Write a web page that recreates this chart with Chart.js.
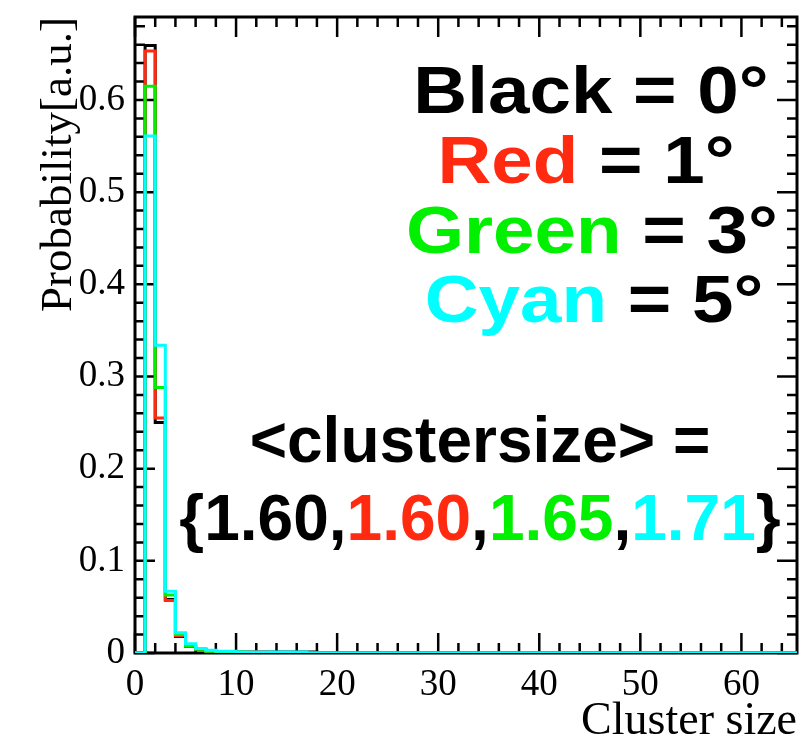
<!DOCTYPE html>
<html lang="en">
<head>
    <meta charset="UTF-8">
    <title>Cluster size</title>
    <script src="https://cdn.jsdelivr.net/npm/chart.js"></script>
    <style>
        html, body { margin: 0; padding: 0; background: #fff; }
        #wrap { width: 802px; height: 750px; }
    </style>
</head>
<body>
<div id="wrap"><canvas id="clusterChart" width="802" height="750"></canvas></div>

<script>
    // bin low edges (cluster size), bins are 1 wide
    const binEdges = [0, 1, 2, 3, 4, 5, 6, 7, 8, 9, 10, 11, 12, 13, 14, 15, 16, 17, 18];
    const black0 = [0, 0.659, 0.250, 0.058, 0.018, 0.007, 0.004, 0.002, 0.0015, 0.001, 0.001, 0.001, 0.001, 0.001, 0.001, 0.001, 0.001, 0.001, 0];
    const red1   = [0, 0.653, 0.255, 0.057, 0.019, 0.007, 0.004, 0.002, 0.0015, 0.001, 0.001, 0.001, 0.001, 0.0005, 0.0005, 0.0005, 0.0005, 0, 0];
    const green3 = [0, 0.615, 0.288, 0.063, 0.020, 0.008, 0.004, 0.002, 0.0015, 0.001, 0.001, 0.0005, 0.0005, 0.0005, 0.0005, 0, 0, 0, 0];
    const cyan5  = [0, 0.561, 0.334, 0.067, 0.022, 0.010, 0.005, 0.003, 0.002, 0.002, 0.001, 0.001, 0.001, 0.001, 0.001, 0.001, 0.001, 0, 0];
    const xMax = 65.5;
    const yMax = 0.69;
    const xTicks = [0, 10, 20, 30, 40, 50, 60];
    const yTicks = [0, 0.1, 0.2, 0.3, 0.4, 0.5, 0.6];
    const meanSizes = ['1.60', '1.60', '1.65', '1.71'];

    const colors = { black: '#000000', red: '#ff2a10', green: '#00f000', cyan: '#00ffff' };

    function histPoints(vals) {
        const pts = binEdges.map((e, i) => ({ x: e, y: vals[i] }));
        pts.push({ x: xMax, y: 0 });
        return pts;
    }

    function histSet(label, vals, color, order) {
        return {
            label, data: histPoints(vals), borderColor: color, borderWidth: 3,
            showLine: true, stepped: 'before', pointRadius: 0, fill: false, order
        };
    }

    // ROOT-like frame with inward ticks on all four sides
    const framePlugin = {
        id: 'frame',
        beforeDatasetsDraw(chart) {
            const { ctx, chartArea: a, scales: { x, y } } = chart;
            ctx.save();
            ctx.strokeStyle = '#000';
            ctx.lineWidth = 3;
            ctx.strokeRect(a.left, a.top, a.right - a.left, a.bottom - a.top);
            ctx.lineWidth = 2.5;
            ctx.beginPath();
            for (let v = 0; v <= xMax; v += 2) {
                const px = x.getPixelForValue(v);
                const len = v % 10 === 0 ? 20 : 10;
                ctx.moveTo(px, a.bottom); ctx.lineTo(px, a.bottom - len);
                ctx.moveTo(px, a.top); ctx.lineTo(px, a.top + len);
            }
            for (let k = 0; k * 0.02 <= yMax; k++) {
                const py = y.getPixelForValue(k * 0.02);
                const len = k % 5 === 0 ? 20 : 10;
                ctx.moveTo(a.left, py); ctx.lineTo(a.left + len, py);
                ctx.moveTo(a.right, py); ctx.lineTo(a.right - len, py);
            }
            ctx.stroke();
            ctx.restore();
        }
    };

    // draws coloured pieces of one line centred on cx, optionally stretched in x
    function drawParts(ctx, parts, cx, baseY, sx) {
        let w = 0;
        parts.forEach(p => { w += ctx.measureText(p[0]).width; });
        ctx.save();
        ctx.translate(cx, baseY);
        ctx.scale(sx || 1, 1);
        let xx = -w / 2;
        parts.forEach(p => {
            ctx.fillStyle = p[1];
            ctx.fillText(p[0], xx, 0);
            xx += ctx.measureText(p[0]).width;
        });
        ctx.restore();
    }

    const legendTextPlugin = {
        id: 'legendText',
        afterDraw(chart) {
            const ctx = chart.ctx;
            ctx.save();
            ctx.textBaseline = 'alphabetic';
            ctx.textAlign = 'left';
            ctx.font = 'bold 66px "Liberation Sans", Arial, sans-serif';
            drawParts(ctx, [['Black', colors.black], [' = 0°', '#000']], 591, 113, 1.13);
            drawParts(ctx, [['Red', colors.red], [' = 1°', '#000']], 586, 183, 1.13);
            drawParts(ctx, [['Green', colors.green], [' = 3°', '#000']], 592, 253, 1.13);
            drawParts(ctx, [['Cyan', colors.cyan], [' = 5°', '#000']], 594, 322, 1.13);
            ctx.font = 'bold 64px "Liberation Sans", Arial, sans-serif';
            drawParts(ctx, [['<clustersize> =', '#000']], 480, 462);
            const c = [colors.black, colors.red, colors.green, colors.cyan];
            const parts = [['{', '#000']];
            meanSizes.forEach((m, i) => {
                parts.push([m, c[i]]);
                parts.push([i < meanSizes.length - 1 ? ',' : '}', '#000']);
            });
            drawParts(ctx, parts, 480, 540);
            ctx.restore();
        }
    };

    const serif = '"Liberation Serif", "Times New Roman", serif';

    new Chart(document.getElementById('clusterChart'), {
        type: 'scatter',
        data: {
            datasets: [
                histSet('0°', black0, colors.black, 4),
                histSet('1°', red1, colors.red, 3),
                histSet('3°', green3, colors.green, 2),
                histSet('5°', cyan5, colors.cyan, 1)
            ]
        },
        options: {
            responsive: false,
            animation: false,
            layout: { padding: { top: 17, right: 5, left: 0, bottom: 0 } },
            plugins: { legend: { display: false }, tooltip: { enabled: false } },
            scales: {
                x: {
                    type: 'linear', min: 0, max: xMax,
                    afterFit(s) { s.height = 97; s.paddingLeft = 0; s.paddingRight = 0; },
                    afterBuildTicks(s) { s.ticks = xTicks.map(v => ({ value: v })); },
                    grid: { display: false, drawTicks: false },
                    border: { display: false },
                    ticks: { color: '#000', font: { family: serif, size: 37 }, padding: 10, maxRotation: 0 },
                    title: { display: true, text: 'Cluster size', align: 'end', color: '#000',
                             font: { family: serif, size: 46 }, padding: { top: 0, bottom: 0 } }
                },
                y: {
                    type: 'linear', min: 0, max: yMax,
                    afterFit(s) { s.width = 135; s.paddingTop = 0; s.paddingBottom = 0; },
                    afterBuildTicks(s) { s.ticks = yTicks.map(v => ({ value: v })); },
                    grid: { display: false, drawTicks: false },
                    border: { display: false },
                    ticks: { color: '#000', font: { family: serif, size: 37 }, padding: 10,
                             callback: v => String(+v.toFixed(2)) },
                    title: { display: true, text: 'Probability[a.u.]', align: 'end', color: '#000',
                             font: { family: serif, size: 45 }, padding: { top: 32, bottom: 0 } }
                }
            }
        },
        plugins: [framePlugin, legendTextPlugin]
    });
</script>
</body>
</html>
